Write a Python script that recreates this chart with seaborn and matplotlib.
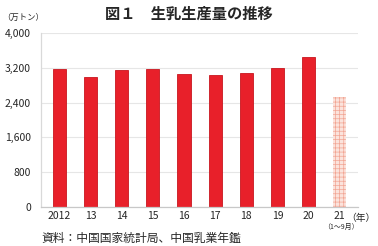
import matplotlib
matplotlib.use("Agg")
import matplotlib.pyplot as plt
import seaborn as sns
import pandas as pd

years = ["2012", "13", "14", "15", "16", "17", "18", "19", "20", "21"]
values = [3175, 3001, 3160, 3180, 3064, 3039, 3075, 3201, 3440, 2530]
yticks = [0, 800, 1600, 2400, 3200, 4000]

sns.set_theme(style="white")
plt.rcParams['font.family'] = ['Noto Sans CJK JP', 'DejaVu Sans']
plt.rcParams['hatch.linewidth'] = 0.5
plt.rcParams['hatch.color'] = "#f2a593"

df = pd.DataFrame({"year": years, "value": values})

fig = plt.figure(figsize=(3.78, 2.46), dpi=100)
ax = fig.add_axes([0.108, 0.16, 0.84, 0.705])

colors = ["#e8202a"] * 9 + ["#fbe3dc"]
sns.barplot(data=df, x="year", y="value", hue="year", palette=colors,
            legend=False, width=0.42, ax=ax, saturation=1)
for i, p in enumerate(ax.patches):
    if i < 9:
        p.set_edgecolor("#c8161e")
        p.set_linewidth(0.6)
    else:
        p.set_hatch("++++")
        p.set_edgecolor("#f2a593")
        p.set_linewidth(0.0)

ax.set_ylim(0, 4000)
ax.set_xlim(-0.6, 9.6)
ax.set_yticks(yticks)
ax.set_yticklabels([f"{v:,}" for v in yticks], fontsize=7.5)
ax.tick_params(axis='x', labelsize=7.5, length=0, pad=3)
ax.tick_params(axis='y', length=0, pad=7)
ax.yaxis.grid(True, color="#e6e6e6", linewidth=0.8)
ax.set_axisbelow(True)
ax.set_xlabel("")
ax.set_ylabel("")
for s in ["top", "right"]:
    ax.spines[s].set_visible(False)
ax.spines["left"].set_color("#d9d9d9")
ax.spines["bottom"].set_color("#c8c8c8")
ax.spines["left"].set_linewidth(0.9)
ax.spines["bottom"].set_linewidth(0.9)

fig.text(0.5, 0.945, "図１　生乳生産量の推移", ha="center", va="center",
         fontsize=11, fontweight="bold")
fig.text(0.005, 0.93, "（万トン）", ha="left", va="center", fontsize=6)
fig.text(0.955, 0.113, "（年）", ha="center", va="center", fontsize=7)
fig.text(0.903, 0.078, "（1～9月）", ha="center", va="center", fontsize=5)
fig.text(0.11, 0.03, "資料：中国国家統計局、中国乳業年鑑", ha="left",
         va="center", fontsize=8.5)

fig.savefig("out.png", dpi=100)
